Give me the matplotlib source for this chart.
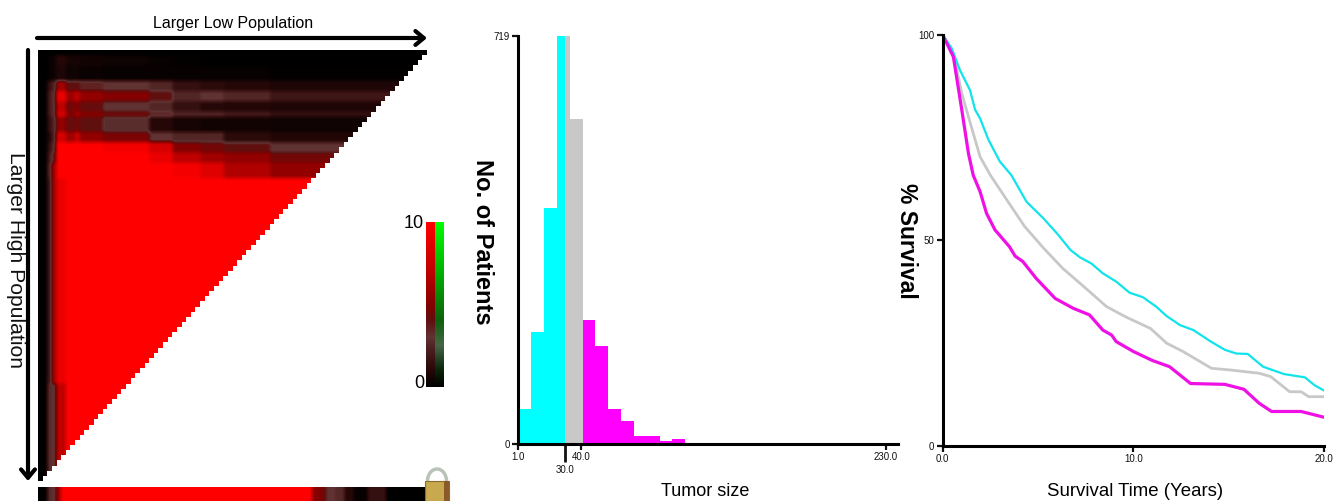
import numpy as np
import matplotlib
matplotlib.use("Agg")
import matplotlib.pyplot as plt
from matplotlib.colors import LinearSegmentedColormap
from matplotlib.patches import Polygon, Rectangle, Arc
from matplotlib.transforms import Bbox

W, H = 1344, 501
plt.rcParams["font.family"] = ["Liberation Sans", "DejaVu Sans"]

# heat map: cells per column band / row band, values 0-10
n_cells = 84
col_cells = [2, 1, 1, 2, 2, 1, 5, 10, 5, 6, 5, 10, 34]
row_cells = [1, 2, 3, 2, 2, 2, 1, 3, 2, 2, 2, 3, 40, 19]
heat_bands = [
    [0, 0, 0, 0, 0, 0, 0, 0, 0, 0, 0, 0, 0],
    [0, .2, .4, 1, .6, .6, .5, .4, .2, .1, 0, 0, 0],
    [0, .2, .4, .8, .4, .4, .3, .2, .2, .2, .2, .2, .1],
    [0, 1.5, 2.5, 6, 4, 4, 3.5, 3, 2.5, 1.5, 1.2, 1, .8],
    [0, 2, 3, 9, 6, 7, 5.5, 5, 4, 2.5, 3, 2.5, 1.8],
    [0, 2, 3, 7, 4.5, 5, 4.2, 3, 2.5, 1.5, 1, .9, .8],
    [0, 2, 3, 8, 5, 6, 5, 4.5, 3.5, 2.5, 2.5, 2, 1.5],
    [0, 1.5, 2.6, 5.5, 4.2, 4.5, 4, 2.8, 1, .6, .5, .5, .4],
    [0, 1, 2.5, 8, 6, 7.5, 5.5, 4.8, 3, 2.5, 2.5, 1.2, .9],
    [0, 1.5, 3, 10, 10, 10, 10, 9.5, 8, 5, 4.5, 4, 3],
    [0, 2, 4, 10, 10, 10, 10, 10, 9, 7, 6, 5.5, 4.5],
    [0, 2.5, 6, 10, 10, 10, 10, 10, 10, 9.5, 8.5, 6.5, 5.5],
    [0, 2, 6, 9, 10, 10, 10, 10, 10, 10, 10, 10, 10],
    [0, 2.7, 3, 7, 10, 10, 10, 10, 10, 10, 10, 10, 10],
]
strip_cells = [2, 1, 1, 1, 54, 2, 1, 2, 2, 2, 3, 4, 9]
strip_vals = [0, 2.6, 3, 6, 10, 5, 4.5, 3, 2.6, 1, .2, 1.5, 0]

# histogram
bin_edges = [1, 9, 17, 25, 30, 33, 41, 49, 57, 65, 73, 81, 89, 97, 105]
counts = [62, 197, 416, 719, 719, 572, 218, 172, 62, 41, 14, 14, 5, 8]
bar_colors = ["#00ffff"] * 4 + ["#c8c8c8"] * 2 + ["#ff00ff"] * 8

# survival curves
cyan_t = [0, .47, .9, 1.43, 1.7, 1.96, 2.4, 3, 3.6, 4.4, 5.28, 6, 6.7, 7.2, 7.8, 8.4, 9.1, 9.8, 10.5, 11.2, 11.75,
          12.45, 13.15, 14, 14.8, 15.4, 16, 16.8, 17.9, 19, 19.5, 20]
cyan_s = [100, 96.8, 91.5, 86.6, 81.8, 79.7, 74.5, 69.2, 65.9, 59.4, 55.4, 51.7, 47.7, 45.9, 44.4, 42, 40, 37.3, 36.2,
          33.9, 31.6, 29.4, 28.2, 25.6, 23.4, 22.5, 22.4, 19.3, 17.5, 16.7, 14.8, 13.5]
grey_t = [0, .56, 1, 1.5, 1.96, 2.5, 3.36, 4.3, 5.3, 6.3, 7.2, 8.6, 9.65, 10.9, 11.75, 12.6, 14.1, 15.07, 16.6, 17.2,
          18.2, 18.8, 19.2, 20]
grey_s = [100, 95.5, 85.8, 77.7, 70.4, 65.9, 59.9, 53.4, 48.1, 43.2, 39.6, 33.9, 31.3, 28.6, 25, 23, 18.9, 18.5, 17.7,
          16.9, 13.2, 13.2, 12, 12]
mag_t = [0, .56, 1, 1.35, 1.6, 1.96, 2.3, 2.74, 3.5, 3.8, 4.2, 4.9, 5.9, 6.85, 7.7, 8.4, 8.86, 9.1, 10, 11, 11.9, 13,
         14.8, 15.8, 16.6, 17.25, 18.8, 20]
mag_s = [100, 94.7, 81.8, 71.2, 65.9, 61.9, 56.6, 52.6, 48.5, 46.2, 44.9, 40.8, 35.9, 33.5, 31.9, 28.2, 27, 25.4, 23,
         20.8, 19.3, 15.2, 15, 13.8, 10.4, 8.4, 8.4, 7]

reds = LinearSegmentedColormap.from_list("reds", [
    (0, (0, 0, 0)), (.1, (.15, .03, .03)), (.2, (.27, .1, .1)), (.3, (.38, .2, .2)),
    (.4, (.38, .06, .06)), (.5, (.52, 0, 0)), (.7, (.75, 0, 0)), (1, (1, 0, 0))])
greens = LinearSegmentedColormap.from_list("greens", [
    (0, (0, 0, 0)), (.1, (.04, .14, .04)), (.25, (.27, .4, .27)),
    (.4, (.05, .38, .05)), (.7, (0, .7, 0)), (1, (0, 1, 0))])


def px_axes(left, top, right, bottom):
    return fig.add_axes([left / W, 1 - bottom / H, (right - left) / W, (bottom - top) / H])


def style_axes(ax):
    for s in ["top", "right"]:
        ax.spines[s].set_visible(False)
    for s in ["left", "bottom"]:
        ax.spines[s].set_linewidth(2.2)
    ax.patch.set_alpha(0)
    ax.tick_params(labelsize=7, width=1.6, length=4, pad=2, colors="#111111")


fig = plt.figure(figsize=(W / 100, H / 100), dpi=100)

# heat map triangle
heat = np.repeat(np.repeat(np.array(heat_bands, dtype=float), row_cells, axis=0), col_cells, axis=1)
ax = px_axes(38, 50, 427, 481)
im = ax.imshow(heat, cmap=reds, vmin=0, vmax=10, extent=(0, n_cells, n_cells, 0), aspect="auto",
               interpolation="bilinear")
stair = [(0, 0)]
for i in range(n_cells):
    stair += [(n_cells - i, i), (n_cells - i, i + 1)]
stair.append((0, n_cells))
clip = Polygon(stair, closed=True, transform=ax.transData)
im.set_clip_path(clip)
ax.axis("off")

# strip under the triangle
ax = px_axes(38, 487, 427, 501)
ax.imshow(np.repeat(strip_vals, strip_cells)[None, :], cmap=reds, vmin=0, vmax=10, aspect="auto",
          interpolation="bilinear")
ax.axis("off")

# colour key
ramp = np.linspace(10, 0, 256)[:, None]
ax = px_axes(426, 222, 435, 387)
ax.imshow(ramp, cmap=reds, vmin=0, vmax=10, aspect="auto")
ax.axis("off")
ax = px_axes(435, 222, 444, 387)
ax.imshow(ramp, cmap=greens, vmin=0, vmax=10, aspect="auto")
ax.axis("off")

# histogram
ax = px_axes(518.3, 36, 898, 444)
ax.bar(bin_edges[:-1], counts, width=np.diff(bin_edges), align="edge", color=bar_colors, linewidth=0)
ax.set_xlim(1, 237.4)
ax.set_ylim(0, 719)
style_axes(ax)
ax.set_yticks([0, 719], ["0", "719"])
ax.set_xticks([1, 40, 230], ["1.0", "40.0", "230.0"])
ax.set_xticks([30], ["30.0"], minor=True)
ax.tick_params(axis="x", which="minor", length=13, width=2, pad=2, labelsize=7, colors="#111111")
clip_box = Bbox([[0, 0], [898, H]])
for t in ax.get_xticklabels():
    t.set_clip_box(clip_box)
    t.set_clip_on(True)

# survival
ax = px_axes(942.7, 35, 1324, 446)
ax.plot(grey_t, grey_s, color="#c8c8c8", lw=2)
ax.plot(cyan_t, cyan_s, color="#10e4ea", lw=1.6)
ax.plot(mag_t, mag_s, color="#ee10e4", lw=2.3)
ax.set_xlim(0, 20)
ax.set_ylim(0, 100)
style_axes(ax)
ax.set_xticks([0, 10, 20], ["0.0", "10.0", "20.0"])
ax.set_yticks([0, 50, 100], ["0", "50", "100"])

# overlay in pixel units for arrows, titles and the padlock
ov = px_axes(0, 0, W, H)
ov.set_xlim(0, W)
ov.set_ylim(H, 0)
ov.axis("off")
head = dict(arrowstyle="->,head_length=0.6,head_width=0.5", lw=3, color="black", shrinkA=0, shrinkB=0)
ov.annotate("", xy=(427, 38), xytext=(37, 38), arrowprops=head)
ov.annotate("", xy=(28, 481), xytext=(28, 50), arrowprops=head)

ov.text(233, 23, "Larger Low Population", fontsize=11.5, ha="center", va="center")
ov.text(15, 260, "Larger High Population", fontsize=15.2, rotation=270, ha="center", va="center", color="#111111")
ov.text(482, 242, "No. of Patients", fontsize=17, weight="bold", rotation=270, ha="center", va="center")
ov.text(907, 241, "% Survival", fontsize=16.5, weight="bold", rotation=270, ha="center", va="center")
ov.text(705, 491, "Tumor size", fontsize=13, ha="center", va="center")
ov.text(1135, 491, "Survival Time (Years)", fontsize=13.4, ha="center", va="center")
ov.text(424, 224, "10", fontsize=13, ha="right", va="center")
ov.text(424, 384, "0", fontsize=13, ha="right", va="center")

ov.add_patch(Arc((437, 481), 19, 24, theta1=180, theta2=360, color="#b8c4b8", lw=2.5))
ov.add_patch(Rectangle((425, 481), 24, 20, facecolor="#c9a94f", edgecolor="#8a6d2a", lw=.8))
ov.add_patch(Rectangle((444, 481), 5, 20, facecolor="#8a5a2a", lw=0))

fig.savefig("out.png", dpi=100)
